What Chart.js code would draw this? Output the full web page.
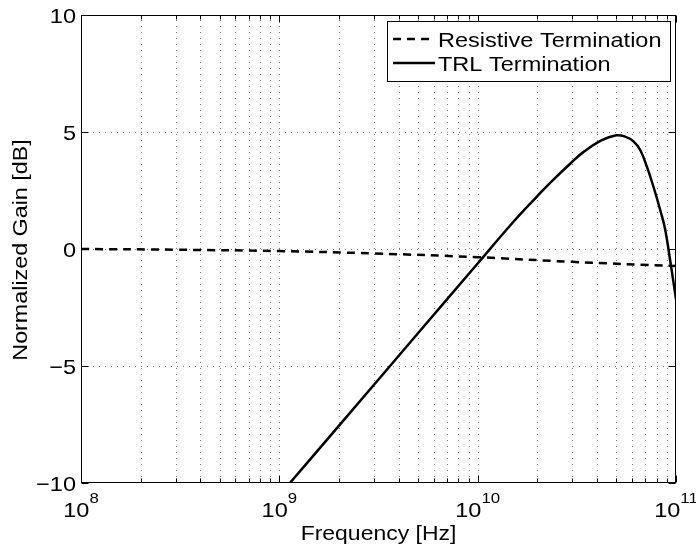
<!DOCTYPE html>
<html>
<head>
<meta charset="utf-8">
<script src="https://cdn.jsdelivr.net/npm/chart.js@4.4.1/dist/chart.umd.min.js"></script>
<style>
  html, body { margin: 0; padding: 0; background: #fff; }
  canvas { display: block; }
</style>
</head>
<body>
<canvas id="gainChart" width="696" height="549"></canvas>
<script>
// -------------------- Data --------------------
const freqResistive = [1e8, 3e8, 1e9, 3e9, 1e10, 3e10, 1e11];
const gainResistive = [0, -0.03, -0.09, -0.19, -0.35, -0.55, -0.73];

const freqTRL = [1.13e9, 2e9, 5e9, 1e10, 1.5e10, 2e10, 2.32e10, 3e10, 3.41e10, 4.2e10,
  5e10, 5.5e10, 6.1e10, 6.6e10, 7.13e10, 7.7e10, 8.4e10, 8.81e10, 9.33e10, 1e11];
const gainTRL = [-10, -7.55, -3.6, -0.62, 1.12, 2.26, 2.83, 3.73, 4.14, 4.64,
  4.86, 4.81, 4.6, 4.23, 3.52, 2.66, 1.55, 0.85, -0.45, -2.15];

const seriesLabels = ['Resistive Termination', 'TRL Termination'];
const yTicks = [-10, -5, 0, 5, 10];
const xDecades = [8, 9, 10, 11];
const xTitle = 'Frequency [Hz]';
const yTitle = 'Normalized Gain [dB]';

// -------------------- Helpers --------------------
const FONT = '"Liberation Sans", Arial, Helvetica, sans-serif';
const STRETCH = 1.12; // source font runs a bit wider than Arial

function drawText(ctx, str, x, y, size, align, angle) {
  ctx.save();
  ctx.translate(x, y);
  if (angle) ctx.rotate(angle);
  ctx.scale(STRETCH, 1);
  ctx.font = size + 'px ' + FONT;
  ctx.textAlign = align || 'left';
  ctx.textBaseline = 'alphabetic';
  ctx.fillStyle = '#000';
  ctx.fillText(str, 0, 0);
  ctx.restore();
}

function textWidth(ctx, str, size) {
  ctx.save();
  ctx.font = size + 'px ' + FONT;
  const w = ctx.measureText(str).width * STRETCH;
  ctx.restore();
  return w;
}

function minorFreqs() {
  const out = [];
  for (let i = 0; i < xDecades.length - 1; i++) {
    for (let m = 2; m <= 9; m++) out.push(m * Math.pow(10, xDecades[i]));
  }
  return out;
}

// -------------------- MATLAB-style axes plugin --------------------
const matlabAxes = {
  id: 'matlabAxes',
  beforeDatasetsDraw(chart) {
    const { ctx, chartArea: a, scales: { x, y } } = chart;
    ctx.save();
    ctx.strokeStyle = '#7a7a7a';
    ctx.lineWidth = 1;
    ctx.setLineDash([1, 5]);
    const vlines = minorFreqs().concat(xDecades.slice(1, -1).map(n => Math.pow(10, n)));
    vlines.forEach(f => {
      const px = Math.round(x.getPixelForValue(f)) + 0.5;
      ctx.beginPath();
      ctx.moveTo(px, a.bottom);
      ctx.lineTo(px, a.top);
      ctx.stroke();
    });
    yTicks.slice(1, -1).forEach(v => {
      const py = Math.round(y.getPixelForValue(v)) + 0.5;
      ctx.beginPath();
      ctx.moveTo(a.left, py);
      ctx.lineTo(a.right, py);
      ctx.stroke();
    });
    ctx.restore();
  },
  afterDatasetsDraw(chart) {
    const { ctx, chartArea: a, scales: { x, y } } = chart;
    ctx.save();
    ctx.strokeStyle = '#000';
    ctx.lineWidth = 1;
    ctx.setLineDash([]);

    const L = Math.round(a.left) + 0.5, R = Math.round(a.right) - 0.5;
    const T = Math.round(a.top) + 0.5, B = Math.round(a.bottom) - 0.5;

    // ticks (inward, both sides)
    ctx.beginPath();
    xDecades.forEach(n => {
      const px = Math.round(x.getPixelForValue(Math.pow(10, n))) + 0.5;
      ctx.moveTo(px, B); ctx.lineTo(px, B - 7);
      ctx.moveTo(px, T); ctx.lineTo(px, T + 7);
    });
    minorFreqs().forEach(f => {
      const px = Math.round(x.getPixelForValue(f)) + 0.5;
      ctx.moveTo(px, B); ctx.lineTo(px, B - 4);
      ctx.moveTo(px, T); ctx.lineTo(px, T + 4);
    });
    yTicks.forEach(v => {
      const py = Math.round(y.getPixelForValue(v)) + 0.5;
      ctx.moveTo(L, py); ctx.lineTo(L + 7, py);
      ctx.moveTo(R, py); ctx.lineTo(R - 7, py);
    });
    ctx.stroke();

    // frame
    ctx.strokeRect(L, T, R - L, B - T);

    // y tick labels
    yTicks.forEach(v => {
      const py = y.getPixelForValue(v);
      const label = v < 0 ? '\u2212' + Math.abs(v) : String(v);
      drawText(ctx, label, a.left - 5, py + 8, 21, 'right');
    });

    // x tick labels: 10^n
    xDecades.forEach(n => {
      const px = x.getPixelForValue(Math.pow(10, n));
      const wBase = textWidth(ctx, '10', 21);
      const wExp = textWidth(ctx, String(n), 15);
      const start = px - (wBase + wExp) / 2;
      drawText(ctx, '10', start, 517, 21, 'left');
      drawText(ctx, String(n), start + wBase, 503, 15, 'left');
    });

    // axis titles
    drawText(ctx, xTitle, (a.left + a.right) / 2, 540, 20.5, 'center');
    drawText(ctx, yTitle, 27, (a.top + a.bottom) / 2 + 1, 20.8, 'center', -Math.PI / 2);

    // legend box
    const bx = 387.5, by = 21.5, bw = 283, bh = 60;
    ctx.fillStyle = '#fff';
    ctx.fillRect(bx, by, bw, bh);
    ctx.strokeStyle = '#000';
    ctx.lineWidth = 1;
    ctx.strokeRect(bx, by, bw, bh);
    const rows = [39, 63];
    chart.data.datasets.forEach((ds, i) => {
      ctx.beginPath();
      ctx.lineWidth = 2.5;
      ctx.setLineDash(ds.borderDash || []);
      ctx.moveTo(393, rows[i]);
      ctx.lineTo(435, rows[i]);
      ctx.stroke();
      ctx.setLineDash([]);
      drawText(ctx, ds.label, 438, rows[i] + 7.5, 21, 'left');
    });
    ctx.restore();
  }
};

// -------------------- Chart --------------------
const ctx = document.getElementById('gainChart').getContext('2d');

new Chart(ctx, {
  type: 'line',
  data: {
    datasets: [
      {
        label: seriesLabels[0],
        data: freqResistive.map((f, i) => ({ x: f, y: gainResistive[i] })),
        borderColor: '#000',
        borderWidth: 2.5,
        borderDash: [8, 6],
        pointRadius: 0,
        fill: false,
        tension: 0.4
      },
      {
        label: seriesLabels[1],
        data: freqTRL.map((f, i) => ({ x: f, y: gainTRL[i] })),
        borderColor: '#000',
        borderWidth: 2.5,
        pointRadius: 0,
        fill: false,
        tension: 0.4
      }
    ]
  },
  options: {
    responsive: false,
    animation: false,
    layout: { padding: { top: 15, right: 20, left: 0, bottom: 0 } },
    plugins: {
      legend: { display: false },
      tooltip: { enabled: false }
    },
    scales: {
      x: {
        type: 'logarithmic',
        min: 1e8,
        max: 1e11,
        grid: { display: false },
        border: { display: false },
        ticks: { display: false },
        afterFit: s => { s.height = 66; }
      },
      y: {
        type: 'linear',
        min: -10,
        max: 10,
        grid: { display: false },
        border: { display: false },
        ticks: { display: false },
        afterFit: s => { s.width = 81; }
      }
    }
  },
  plugins: [matlabAxes]
});
</script>
</body>
</html>
